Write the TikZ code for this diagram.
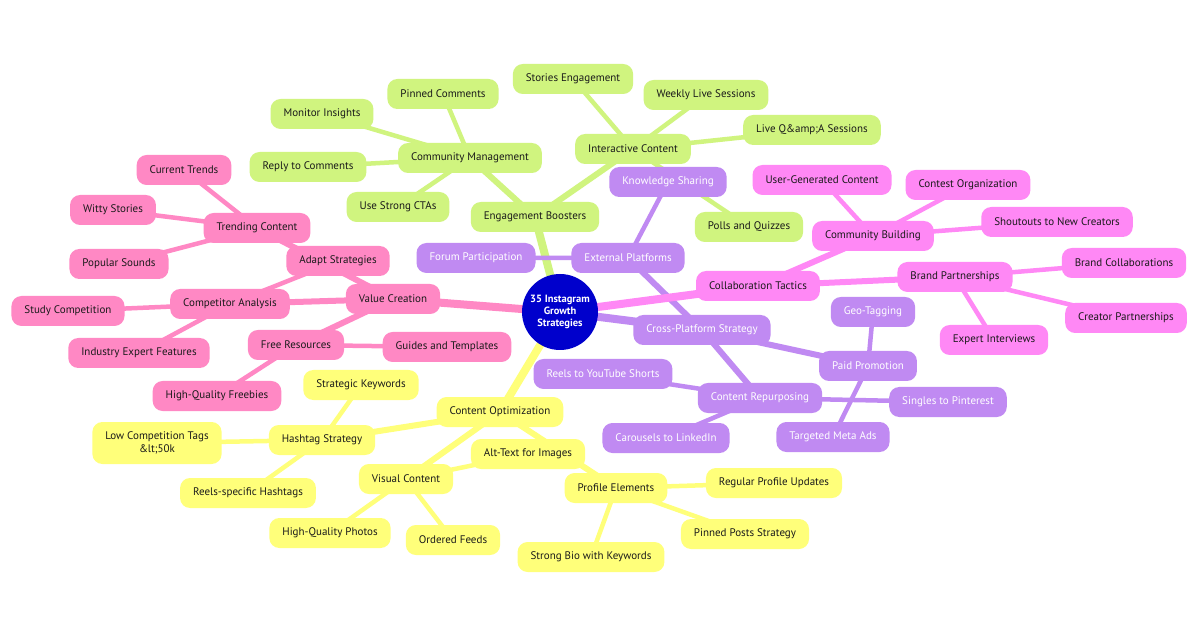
\documentclass[tikz,border=0pt]{standalone}
\usepackage{fontspec}
\setmainfont{PT Sans}
\usepackage{xcolor}
\usepackage{tikz}
\usetikzlibrary{backgrounds}
\definecolor{rootblue}{HTML}{0000CC}
\definecolor{lime}{HTML}{D0F47F}
\definecolor{lilac}{HTML}{C08AF2}
\definecolor{orchid}{HTML}{FF88F5}
\definecolor{rose}{HTML}{FF88C4}
\definecolor{lemon}{HTML}{FFFF7A}
\definecolor{ink}{HTML}{1A1A1A}

\begin{document}
\begin{tikzpicture}[x=1pt,y=-1pt,
  idea/.style={rounded corners=10pt,minimum height=30pt,inner xsep=13pt,inner ysep=3pt,align=center,text=ink,font=\fontsize{11}{12.5}\selectfont},
  grn/.style={idea,fill=lime},
  prp/.style={idea,fill=lilac,text=white},
  mag/.style={idea,fill=orchid},
  pnk/.style={idea,fill=rose},
  ylw/.style={idea,fill=lemon},
  trunk/.style={line width=8pt},
  limb/.style={line width=6pt},
  twig/.style={line width=4.5pt}]
  \useasboundingbox (0,0) rectangle (1200,628);
  % centre
  \node[circle,fill=rootblue,text=white,minimum size=76pt,inner sep=0pt,align=center,font=\fontsize{10.5}{12}\selectfont\bfseries] (root) at (560,312) {35 Instagram\\Growth\\Strategies};
  % engagement
  \node[grn] (boost) at (535,217) {Engagement Boosters};
  \node[grn] (commgmt) at (470,158) {Community Management};
  \node[grn] (pinned) at (443,94) {Pinned Comments};
  \node[grn] (monitor) at (322,114) {Monitor Insights};
  \node[grn] (reply) at (308,167) {Reply to Comments};
  \node[grn] (ctas) at (398,207) {Use Strong CTAs};
  \node[grn] (interact) at (633,149) {Interactive Content};
  \node[grn] (stories) at (573,79) {Stories Engagement};
  \node[grn] (weekly) at (706,95) {Weekly Live Sessions};
  \node[grn] (liveqa) at (812,130) {Live Q\&amp;A Sessions};
  \node[grn] (polls) at (749,227) {Polls and Quizzes};
  % cross-platform
  \node[prp] (cross) at (702,330) {Cross-Platform Strategy};
  \node[prp] (external) at (628,258) {External Platforms};
  \node[prp] (knowledge) at (668,182) {Knowledge Sharing};
  \node[prp] (forum) at (476,258) {Forum Participation};
  \node[prp] (repurp) at (760,398) {Content Repurposing};
  \node[prp] (reels) at (603,374) {Reels to YouTube Shorts};
  \node[prp] (carousels) at (666,438) {Carousels to LinkedIn};
  \node[prp] (singles) at (948,402) {Singles to Pinterest};
  \node[prp] (paid) at (868,366) {Paid Promotion};
  \node[prp] (geo) at (873,312) {Geo-Tagging};
  \node[prp] (meta) at (833,437) {Targeted Meta Ads};
  % collaboration
  \node[mag] (collab) at (758,286) {Collaboration Tactics};
  \node[mag] (commbuild) at (873,236) {Community Building};
  \node[mag] (ugc) at (822,180) {User-Generated Content};
  \node[mag] (contest) at (968,185) {Contest Organization};
  \node[mag] (shout) at (1057,222) {Shoutouts to New Creators};
  \node[mag] (brandp) at (955,277) {Brand Partnerships};
  \node[mag] (brandcol) at (1124,263) {Brand Collaborations};
  \node[mag] (creatorp) at (1126,318) {Creator Partnerships};
  \node[mag] (expert) at (994,340) {Expert Interviews};
  % value
  \node[pnk] (value) at (393,299) {Value Creation};
  \node[pnk] (trending) at (257,228) {Trending Content};
  \node[pnk] (current) at (184,170) {Current Trends};
  \node[pnk] (witty) at (113,210) {Witty Stories};
  \node[pnk] (popular) at (119,264) {Popular Sounds};
  \node[pnk] (compet) at (230,304) {Competitor Analysis};
  \node[pnk] (adapt) at (338,261) {Adapt Strategies};
  \node[pnk] (study) at (68,311) {Study Competition};
  \node[pnk] (industry) at (139,353) {Industry Expert Features};
  \node[pnk] (free) at (296,345) {Free Resources};
  \node[pnk] (guides) at (447,347) {Guides and Templates};
  \node[pnk] (freebies) at (217,396) {High-Quality Freebies};
  % optimization
  \node[ylw] (optim) at (500,412) {Content Optimization};
  \node[ylw] (hashtag) at (322,440) {Hashtag Strategy};
  \node[ylw] (keywords) at (361,385) {Strategic Keywords};
  \node[ylw,minimum height=42pt] (lowcomp) at (157,443) {Low Competition Tags\\\&lt;50k};
  \node[ylw] (reelstags) at (248,493) {Reels-specific Hashtags};
  \node[ylw] (visual) at (406,479) {Visual Content};
  \node[ylw] (alttext) at (528,454) {Alt-Text for Images};
  \node[ylw] (photos) at (330,533) {High-Quality Photos};
  \node[ylw] (ordered) at (453,540) {Ordered Feeds};
  \node[ylw] (profile) at (616,488) {Profile Elements};
  \node[ylw] (regular) at (774,483) {Regular Profile Updates};
  \node[ylw] (pinnedposts) at (745,534) {Pinned Posts Strategy};
  \node[ylw] (bio) at (591,557) {Strong Bio with Keywords};
  % branches
  \begin{scope}[on background layer]
    \fill[white] (0,0) rectangle (1200,628);
    \draw[trunk,lime] (root.center) -- (boost.center);
    \draw[limb,lime] (boost.center) -- (commgmt.center) (boost.center) -- (interact.center);
    \draw[twig,lime] (commgmt.center) -- (pinned.center) (commgmt.center) -- (monitor.center)
      (commgmt.center) -- (reply.center) (commgmt.center) -- (ctas.center);
    \draw[twig,lime] (interact.center) -- (stories.center) (interact.center) -- (weekly.center)
      (interact.center) -- (liveqa.center) (interact.center) -- (polls.center);
    \draw[trunk,lilac] (root.center) -- (cross.center);
    \draw[limb,lilac] (cross.center) -- (external.center) (cross.center) -- (repurp.center)
      (cross.center) -- (paid.center);
    \draw[twig,lilac] (external.center) -- (knowledge.center) (external.center) -- (forum.center);
    \draw[twig,lilac] (repurp.center) -- (reels.center) (repurp.center) -- (carousels.center)
      (repurp.center) -- (singles.center);
    \draw[twig,lilac] (paid.center) -- (geo.center) (paid.center) -- (meta.center);
    \draw[trunk,orchid] (root.center) -- (collab.center);
    \draw[limb,orchid] (collab.center) -- (commbuild.center) (collab.center) -- (brandp.center);
    \draw[twig,orchid] (commbuild.center) -- (ugc.center) (commbuild.center) -- (contest.center)
      (commbuild.center) -- (shout.center);
    \draw[twig,orchid] (brandp.center) -- (brandcol.center) (brandp.center) -- (creatorp.center)
      (brandp.center) -- (expert.center);
    \draw[trunk,rose] (root.center) -- (value.center);
    \draw[limb,rose] (value.center) -- (trending.center) (value.center) -- (compet.center)
      (value.center) -- (free.center);
    \draw[twig,rose] (trending.center) -- (current.center) (trending.center) -- (witty.center)
      (trending.center) -- (popular.center);
    \draw[twig,rose] (compet.center) -- (study.center) (compet.center) -- (industry.center)
      (compet.center) -- (adapt.center);
    \draw[twig,rose] (free.center) -- (guides.center) (free.center) -- (freebies.center);
    \draw[trunk,lemon] (root.center) -- (optim.center);
    \draw[limb,lemon] (optim.center) -- (hashtag.center) (optim.center) -- (visual.center)
      (optim.center) -- (profile.center);
    \draw[twig,lemon] (hashtag.center) -- (keywords.center) (hashtag.center) -- (lowcomp.center)
      (hashtag.center) -- (reelstags.center);
    \draw[twig,lemon] (visual.center) -- (photos.center) (visual.center) -- (ordered.center)
      (visual.center) -- (alttext.center);
    \draw[twig,lemon] (profile.center) -- (regular.center) (profile.center) -- (pinnedposts.center)
      (profile.center) -- (bio.center);
  \end{scope}
\end{tikzpicture}
\end{document}
